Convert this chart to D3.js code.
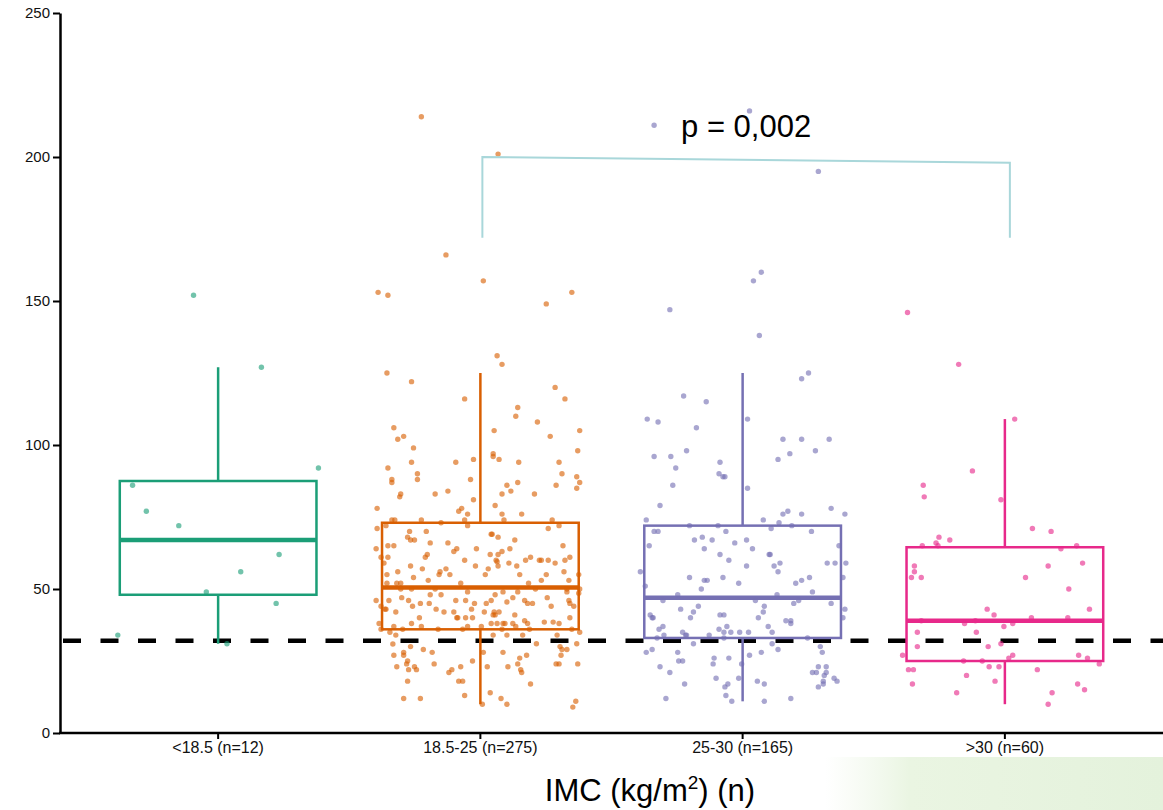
<!DOCTYPE html>
<html>
<head>
<meta charset="utf-8">
<script src="https://cdn.jsdelivr.net/npm/d3@7"></script>
<style>
  body { margin: 0; background: #fff; }
  svg { display: block; font-family: "Liberation Sans", Arial, sans-serif; }
</style>
</head>
<body>
<script>
const categories = ["<18.5 (n=12)", "18.5-25 (n=275)", "25-30 (n=165)", ">30 (n=60)"]
const colors = ["#1b9e77", "#d95f02", "#7570b3", "#e7298a"]
const whiskerLow = [31, 10, 11, 10]
const q1 = [48, 36, 33, 25]
const median = [67, 50.5, 47, 39]
const q3 = [87.5, 73, 72, 64.5]
const whiskerHigh = [127, 125, 125, 109]
const yTicks = [0, 50, 100, 150, 200, 250]
const refLine = 32
const pText = "p = 0,002"
// bracket: from group 2 to group 4, left top, right top, bottom
const bracketTop = [200, 198]
const bracketBottom = 172

// points: [jitter (-1..1 of half box), value]
const ptsUnder = [[-0.25,152],[0.44,127],[1.02,92],[-0.87,86],[-0.73,77],[-0.40,72],[0.62,62],[0.23,56],[-0.12,49],[0.59,45],[-1.02,34],[0.09,31]]

const ptsNormal = [[-0.60,214],[0.18,201],[-0.35,166],[0.03,157],[-1.04,153],[-0.94,152],[0.67,149],[0.93,153],
[0.17,131],[0.22,128],[-0.95,125],[-0.70,122],[0.76,120],[0.86,116],[-0.16,116],[0.38,113],[0.36,110],[0.58,108],
[-0.88,106],[1.01,105],[0.14,105],[-0.84,102],[-0.78,103],[0.71,103],[-0.68,99],[0.99,98],[0.13,97],[0.13,96],
[0.19,95],[-0.07,95],[-0.70,94],[-0.25,94],[0.39,94],[0.80,94],[-0.94,92],[-0.64,90],[0.83,90],[0.98,89],
[-0.90,88],[-0.90,87],[-0.64,88],[-0.10,88],[1.01,87],[0.38,87],[0.27,86],[0.77,86],[0.98,85],[0.31,84],
[-0.33,84],[-0.81,83],[-0.82,82],[-0.46,83],[0.22,83],[0.55,83],[-0.07,81],[-1.05,78],[0.15,79],[-0.19,78],
[-0.22,77],[-0.13,76],[0.22,76],[0.42,76],[-0.90,74],[-0.87,74],[-0.60,74],[-0.16,74],[0.24,74],[0.73,74],
[-0.40,73],[-0.96,72],[-0.13,72],[0.80,72],[-1.05,71],[0.69,71],[-0.72,70],[0.11,69],[0.12,69],[-0.74,68],
[0.18,68],[-0.71,67],[-0.67,67],[0.35,67],[-0.51,66],[-0.33,66],[-0.94,65],[-0.88,65],[0.84,65],[-1.06,64],
[-0.24,64],[-0.27,63],[-0.04,64],[0.22,63],[-0.54,62],[-0.56,61],[0.10,62],[0.18,62],[-1.01,61],[-0.94,61],
[0.16,60],[0.17,59.5],[-0.16,60],[0.51,61],[0.46,60],[0.60,60],[0.62,60],[0.69,60],[0.76,59],[0.86,60],
[0.91,61],[-0.98,59],[-0.71,58],[-0.05,58],[0.18,58],[0.29,59],[0.37,58],[-0.59,57],[0.08,57],[-0.84,56],
[0.85,56],[-0.95,55],[-0.42,55],[-0.41,56],[-0.31,55],[0.40,55],[0.67,55],[1.00,55],[-0.68,54],[-0.53,53],
[0.90,53],[-0.95,52],[-0.85,52],[-0.81,52],[0.49,52],
[-0.81,50],[-0.70,50],[-0.46,50],[0.56,50],[0.88,50],[1.01,50],[-0.13,49],[0.23,49],[0.38,49],[0.88,49],
[1.00,48.5],[-0.40,48],[-0.51,48],[0.15,48],[0.68,47],[-0.80,47],[-0.73,46],[-0.25,46],[-0.15,46],[0.11,46],
[0.33,47],[0.90,46],[-1.06,46],[-0.93,46],[0.27,45.5],[0.45,46],[0.48,45],[0.53,45],[0.91,45],[0.06,45],
[-0.61,45],[-0.52,45],[-0.06,45],[-0.69,44],[0.95,44],[-1.01,44],[-0.97,43],[-0.96,43],[-0.09,43],[0.14,42],
[0.19,42],[0.15,41],[-0.86,42],[-0.37,42],[-0.27,42],[0.04,42],[-0.62,40],[-0.24,40],[-0.23,40],[-0.15,40],
[-0.08,40],[0.13,41],[0.45,39],[0.91,40],[-1.03,38],[-0.70,38],[0.11,38],[0.17,38],[0.23,38],[0.25,38],
[0.33,38],[0.48,38],[0.65,38.5],[0.74,38.5],[0.80,38],
[-1.01,36],[-0.88,37],[-0.79,36],[-0.43,36],[-0.18,36],[-0.13,37],[0.01,37],[0.22,36],[0.50,36],[0.93,36],
[0.36,37],[-0.92,35],[-0.86,34],[0.13,34],[0.27,34],[0.43,34],[0.78,34],[1.01,35],
[-0.89,30.9],[-0.71,30],[-0.58,29],[-0.49,28],[0.03,28],[0.23,28],[0.57,31],[0.81,30],[0.83,29],[0.88,29],
[0.98,31],[-0.88,27],[-0.78,27],[-0.78,28],[0.47,27],[0.40,26],[0.82,27],
[-0.74,25],[-0.08,25],[0.77,24],[0.99,24],[-0.75,24],[-0.47,24],[0.38,24],[0.80,24],
[-0.85,23],[-0.67,23],[-0.20,23],[0.07,23],[0.28,23],[0.41,22],
[-0.73,22],[-0.65,22],[-0.29,22],[-0.32,21],
[0.42,21],[-0.74,18],[-0.22,18],[-0.18,18],[0.51,17],
[0.10,14],[-0.16,13],[-0.78,12],[-0.61,12],[0.21,12],
[0.27,10],[0.02,10],[0.97,11],[0.94,9],
[-0.55,70],[0.30,64],[-0.35,57],[0.62,53],[-0.20,52],[0.05,55],[0.72,44],[-0.45,43],[0.35,41],[-0.60,37]]

const ptsOver = [[-0.90,211],[0.07,216],[0.77,195],[0.19,160],[0.11,157],[-0.74,147],[0.17,138],
[0.60,123],[0.67,125],[-0.60,117],[-0.37,115],[-0.97,109],[-0.86,108],[0.05,109],[-0.47,106],[0.41,102],[0.60,102],[0.88,102],
[-0.57,98],[0.74,98],[-0.90,96],[-0.73,96],[0.48,97],[0.36,95],[-0.23,94],[-0.68,92],[-0.24,90],[-0.20,89],[-0.18,89],[-0.71,86],[0.05,85],
[-0.84,79],[0.90,78],[0.46,77],[0.41,76],[0.60,76],[1.04,76],[-0.98,74],[0.21,74],[0.37,73],[0.50,72],[-0.54,72],[-0.25,72],[0.29,71],
[-0.90,70],[-0.86,70],[-0.17,70],[0.70,70],[-0.49,67],[-0.41,68],[-0.31,67],[0.04,67],[-0.08,66],[-0.95,65],[0.98,65],[-0.39,64],
[-0.23,62],[0.27,62],[0.28,62],[-0.14,60],[0.38,59],[0.32,58],[0.36,56],[0.04,58],[0.86,59],[0.94,59],[1.05,59],[-1.04,56],
[-0.54,54],[-0.20,54],[1.02,54],[0.68,54],[-0.39,53],[-0.36,53],[0.60,53],[0.54,52],[-0.04,52],[-0.99,51],[-0.42,50],[0.71,49],[-0.66,48],[0.35,48],
[-0.81,46],[0.13,46],[0.57,46],[0.52,45],[0.90,45],[0.22,44],[-0.63,43],[1.04,43],[-0.50,42],[0.21,42],
[-0.94,41],[-0.23,41],[-0.19,41],[-0.92,40],[-0.91,40],[-0.53,40],[0.16,40],[1.02,40],[0.44,39],[0.49,39],[0.49,38],
[-0.81,37],[-0.85,36],[0.26,37],[-0.16,37],[-0.24,36],[-0.61,35],[-0.58,34],[-0.57,34],
[-0.19,35],[-0.12,35],[-0.03,35],[0.06,35],[0.30,35],
[-0.87,33],[-0.80,34],[-0.34,34],[-0.19,33],[0.66,33],
[-0.50,31],[0.30,31],
[-0.98,28],[-0.92,29],[0.36,29],[0.79,30],[0.81,28],[-0.66,28],[0.19,28],[0.07,27],
[-0.65,25],[-0.61,25],[-0.29,26],[-0.14,26],
[-0.84,23],[-0.30,24],[-0.01,24],
[0.77,23],[0.85,23],[0.71,21],[0.75,21],[0.85,21],
[-0.74,21],[-0.27,19],[-0.04,19],[0.15,18],
[0.82,18],[0.83,20],[0.93,19],[0.96,18],
[-0.59,17],[-0.15,17],[-0.18,16],[0.22,17],[0.82,17],[0.77,16],
[-0.17,13],[-0.78,12],[0.49,12],[-0.11,11],[0.22,11],
[0.10,64],[-0.45,44]]

const ptsObese = [[-0.99,146],[-0.47,128],[0.10,109],[-0.33,91],[-0.83,86],[-0.82,82],[-0.04,81],[0.28,71],[0.47,70],
[-0.67,68],[-0.56,67],[-0.70,66],[-0.68,65],[-0.84,65],[0.57,64],[0.73,65],[-0.92,58],[-0.92,56],[-0.95,54],[-0.85,54],
[0.44,58],[0.79,59],[0.21,54],[0.65,50],[-0.18,43],[-0.11,41],[0.86,43],[0.27,40],[0.64,40],[-0.41,38],
[-0.01,37],[0.08,38],[-0.89,35],[-0.29,35],[-0.89,30],[-0.17,30],[-0.04,31],[-1.04,27],[0.08,27],[0.04,26],
[0.75,27],[0.84,26],[-0.42,25],[-0.23,25],[0.96,24],[-0.98,22],[-0.93,22],[-0.16,23],[-0.06,23],[0.33,22],
[-0.39,20],[-0.94,17],[-0.10,18],[0.74,17],[0.81,15],[-0.49,14],[0.48,14],[0.44,10],[-0.85,39],[-0.30,39]]

const groups = [ptsUnder, ptsNormal, ptsOver, ptsObese]

const width = 1163
const height = 810

const svg = d3.select("body").append("svg")
  .attr("width", width)
  .attr("height", height)

// pale green patch bottom right
const defs = svg.append("defs")
const grad = defs.append("linearGradient").attr("id", "greenfade")
  .attr("x1", "0").attr("x2", "1").attr("y1", "0").attr("y2", "0")
grad.append("stop").attr("offset", "0").attr("stop-color", "#eef7e8").attr("stop-opacity", 0)
grad.append("stop").attr("offset", "0.25").attr("stop-color", "#eaf5e2").attr("stop-opacity", 1)
grad.append("stop").attr("offset", "1").attr("stop-color", "#e4f2dc").attr("stop-opacity", 1)
svg.append("rect")
  .attr("x", 825).attr("y", 757).attr("width", width - 825).attr("height", height - 757)
  .attr("fill", "url(#greenfade)")

const y = d3.scaleLinear()
  .domain([0, 250])
  .range([733, 13])

const x = d3.scaleBand()
  .domain(categories)
  .range([87, 1136])
  .paddingInner(0.25)
  .paddingOuter(0.125)

const bw = x.bandwidth()
const cx = c => x(c) + bw / 2
const jitter = d3.scaleLinear().domain([-1, 1]).range([-bw / 2, bw / 2])

// reference dashed line
svg.append("line")
  .attr("x1", 63).attr("x2", width)
  .attr("y1", y(refLine)).attr("y2", y(refLine))
  .attr("stroke", "#000")
  .attr("stroke-width", 4.5)
  .attr("stroke-dasharray", "18,19.5")

// boxes
categories.forEach((c, i) => {
  const g = svg.append("g").attr("class", "box")
  const col = colors[i]
  g.append("line")
    .attr("x1", cx(c)).attr("x2", cx(c))
    .attr("y1", y(q3[i])).attr("y2", y(whiskerHigh[i]))
    .attr("stroke", col).attr("stroke-width", 2.5)
  g.append("line")
    .attr("x1", cx(c)).attr("x2", cx(c))
    .attr("y1", y(q1[i])).attr("y2", y(whiskerLow[i]))
    .attr("stroke", col).attr("stroke-width", 2.5)
  g.append("rect")
    .attr("x", x(c)).attr("width", bw)
    .attr("y", y(q3[i])).attr("height", y(q1[i]) - y(q3[i]))
    .attr("fill", "none")
    .attr("stroke", col).attr("stroke-width", 2.5)
  g.append("line")
    .attr("x1", x(c)).attr("x2", x(c) + bw)
    .attr("y1", y(median[i])).attr("y2", y(median[i]))
    .attr("stroke", col).attr("stroke-width", 4.5)
})

// jittered points
groups.forEach((pts, i) => {
  svg.append("g").selectAll("circle")
    .data(pts)
    .enter()
    .append("circle")
    .attr("cx", d => cx(categories[i]) + jitter(d[0]))
    .attr("cy", d => y(d[1]))
    .attr("r", 2.7)
    .attr("fill", colors[i])
    .attr("fill-opacity", 0.62)
})

// axes
const yAxis = d3.axisLeft(y).tickValues(yTicks).tickSize(7).tickPadding(3).tickSizeOuter(0)
const yAxisGroup = svg.append("g")
  .attr("transform", "translate(60,0)")
  .call(yAxis)
yAxisGroup.select(".domain").attr("stroke-width", 2.5)
yAxisGroup.selectAll(".tick line").attr("stroke-width", 2)
yAxisGroup.selectAll("text").attr("font-size", 15).attr("fill", "#111")
  .attr("font-family", "Liberation Sans, Arial, sans-serif")

const xAxis = d3.axisBottom(x).tickSize(6).tickPadding(3).tickSizeOuter(0)
const xAxisGroup = svg.append("g")
  .attr("transform", "translate(0,733)")
  .call(xAxis)
xAxisGroup.select(".domain").remove()
xAxisGroup.selectAll(".tick line").attr("stroke-width", 2)
xAxisGroup.selectAll("text").attr("font-size", 16).attr("fill", "#111")
  .attr("font-family", "Liberation Sans, Arial, sans-serif")
svg.append("line")
  .attr("x1", 59).attr("x2", width)
  .attr("y1", 733).attr("y2", 733)
  .attr("stroke", "#000").attr("stroke-width", 2.5)

// significance bracket
const bx1 = cx(categories[1]) + 2
const bx2 = cx(categories[3]) + 5
svg.append("path")
  .attr("d", `M${bx1},${y(bracketBottom)}L${bx1},${y(bracketTop[0])}L${bx2},${y(bracketTop[1])}L${bx2},${y(bracketBottom)}`)
  .attr("fill", "none")
  .attr("stroke", "#a9d7da")
  .attr("stroke-width", 2)

svg.append("text")
  .attr("x", (bx1 + bx2) / 2)
  .attr("y", y(207))
  .attr("text-anchor", "middle")
  .attr("font-size", 31)
  .attr("fill", "#000")
  .text(pText)

// x axis title
const title = svg.append("text")
  .attr("x", 650)
  .attr("y", 801)
  .attr("text-anchor", "middle")
  .attr("font-size", 31)
  .attr("fill", "#000")
title.append("tspan").text("IMC (kg/m")
title.append("tspan").attr("font-size", 19).attr("dy", -12).text("2")
title.append("tspan").attr("dy", 12).text(") (n)")
</script>
</body>
</html>
